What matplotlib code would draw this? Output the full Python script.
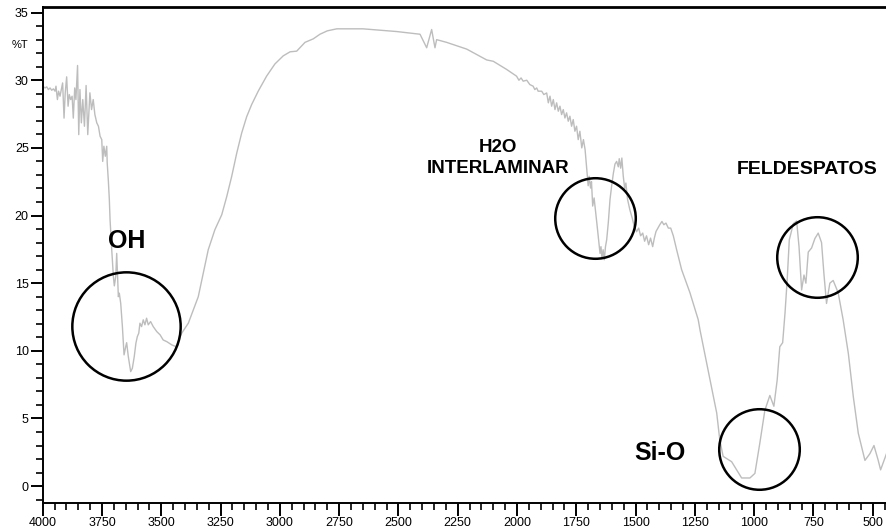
import matplotlib
matplotlib.use("Agg")
import matplotlib.pyplot as plt
from matplotlib.ticker import MultipleLocator
from matplotlib import font_manager

# IR spectrum
wavenumber = [
    4000, 3990, 3983, 3976, 3969, 3962, 3955, 3948, 3944, 3938, 3933, 3927, 3920, 3916,
    3910, 3905, 3899, 3893, 3888, 3882, 3876, 3871, 3865, 3860, 3853, 3848, 3843, 3837,
    3831, 3824, 3817, 3810, 3801, 3794, 3787, 3780, 3772, 3765, 3758, 3751, 3747, 3742,
    3736, 3730, 3728, 3723, 3719, 3716, 3709, 3702, 3698, 3692, 3688, 3681, 3677, 3671,
    3664, 3657, 3650, 3646, 3639, 3629, 3622, 3614, 3607, 3601, 3595, 3590, 3583, 3576,
    3569, 3562, 3555, 3545, 3534, 3519, 3505, 3492, 3477, 3456, 3438, 3428, 3414, 3386,
    3365, 3344, 3302, 3274, 3245, 3224, 3203, 3182, 3161, 3140, 3119, 3091, 3056, 3021,
    2986, 2957, 2929, 2894, 2859, 2831, 2800, 2760, 2650, 2578, 2508, 2409, 2381, 2360,
    2346, 2339, 2297, 2212, 2128, 2100, 2044, 2002, 1992, 1983, 1974, 1959, 1946, 1932,
    1925, 1917, 1911, 1896, 1887,
    1875, 1868, 1861, 1854, 1847, 1840, 1833, 1826, 1819, 1812, 1805, 1798, 1791,
    1784, 1777, 1770, 1763, 1756, 1749, 1742, 1735, 1727, 1720, 1713, 1700, 1696, 1690,
    1686, 1681, 1675, 1668, 1662, 1656, 1650, 1646, 1642, 1637, 1632, 1627, 1622, 1615,
    1608, 1601, 1594, 1587, 1580, 1573, 1569, 1563, 1558, 1552, 1546, 1541, 1534, 1524,
    1514, 1506, 1496, 1487, 1479, 1470, 1462, 1454, 1445, 1437, 1428, 1421, 1414, 1406,
    1398, 1389, 1381, 1372, 1362, 1352, 1341, 1327, 1306, 1271, 1236, 1228, 1186, 1158,
    1145, 1131, 1095, 1074, 1053, 1018, 997, 976, 955, 934, 917, 903, 892, 880,
    870, 861, 852, 835, 821, 811, 800, 790, 782, 772, 758, 744, 730, 716,
    706, 695, 681, 667, 646, 625, 603, 582, 561, 533, 512, 495, 477, 467, 442,
]
transmittance = [
    29.56, 29.43, 29.51, 29.31, 29.43, 29.26, 29.36, 29.19, 29.56, 28.57, 29.19, 28.82, 29.43, 29.80,
    27.20, 29.07, 30.25, 28.08, 28.94, 28.57, 28.82, 27.20, 29.43, 28.57, 31.09, 25.98, 29.31, 26.85,
    28.57, 26.60, 29.61, 25.98, 29.07, 27.83, 28.57, 27.46, 26.85, 26.60, 25.86, 25.61, 24.00, 25.12,
    24.38, 25.12, 23.89, 22.52, 21.17, 19.70, 17.50, 15.50, 14.80, 15.50, 17.20, 14.00, 14.26, 13.50,
    11.80, 9.70, 10.30, 10.60, 9.57, 8.46, 8.71, 9.57, 10.56, 11.05, 11.30, 12.04, 11.79, 12.29,
    11.92, 12.41, 11.92, 12.16, 11.79, 11.42, 11.18, 10.80, 10.68, 10.44, 10.31, 10.68, 11.30, 12.04,
    13.03, 14.00, 17.47, 18.95, 20.06, 21.40, 22.90, 24.60, 26.10, 27.30, 28.20, 29.20, 30.30, 31.20,
    31.80, 32.10, 32.15, 32.80, 33.06, 33.40, 33.65, 33.80, 33.80, 33.70, 33.60, 33.40, 32.40, 33.75,
    32.40, 33.00, 32.80, 32.30, 31.50, 31.40, 30.80, 30.30, 30.00, 30.17, 29.93, 30.00, 29.68, 29.56,
    29.31, 29.43, 29.19, 29.19, 28.94,
    29.06, 28.33, 28.82, 28.08, 28.57, 27.83, 28.33, 27.71, 28.08, 27.46, 27.83, 27.21, 27.59,
    26.97, 27.34, 26.60, 27.09, 26.23, 26.60, 25.61, 26.23, 25.00, 25.61, 24.87, 22.20, 22.90, 22.03,
    22.50, 20.70, 21.30, 20.20, 19.20, 18.20, 17.20, 17.70, 16.85, 17.47, 16.73, 17.70, 18.20, 19.50,
    21.17, 22.20, 23.10, 23.80, 24.00, 23.60, 24.20, 23.50, 24.25, 22.90, 22.00, 22.40, 21.20, 20.40,
    19.80, 19.20, 18.80, 19.07, 18.50, 18.70, 18.10, 18.50, 17.84, 18.33, 17.70, 18.33, 18.82, 19.07,
    19.32, 19.56, 19.32, 19.44, 19.07, 19.07, 18.50, 17.47, 16.00, 14.30, 12.30, 11.50, 7.85, 5.40,
    3.40, 2.20, 1.80, 1.20, 0.60, 0.60, 0.94, 3.20, 5.60, 6.70, 5.90, 7.85, 10.30, 10.60,
    12.80, 15.20, 18.20, 19.40, 19.60, 17.70, 14.50, 15.60, 15.00, 17.30, 17.60, 18.30, 18.70, 18.00,
    15.70, 13.50, 15.00, 15.20, 14.30, 12.30, 9.80, 6.60, 3.90, 1.90, 2.40, 3.00, 1.90, 1.20, 2.40,
]

# band annotations: label text, label position, circle centre, circle diameter (pt)
band_labels = ["OH", "H2O\nINTERLAMINAR", "FELDESPATOS", "Si-O"]
label_x = [3645, 2080, 778, 1398]
label_y = [18.1, 24.25, 23.4, 2.45]
label_size = [18, 13.5, 14, 18]
circle_x = [3649, 1672, 736, 980]
circle_y = [11.8, 19.8, 16.95, 2.75]
circle_d = [78, 58, 58, 58]

names = {f.name for f in font_manager.fontManager.ttflist}
tick_font = "Liberation Sans Narrow" if "Liberation Sans Narrow" in names else "Liberation Sans"

fig = plt.figure(figsize=(8.87, 5.28), dpi=100)
ax = fig.add_axes([42.7 / 887, 25 / 528, 1 - 42.7 / 887, 1 - 31.5 / 528])

ax.plot(wavenumber, transmittance, color="#bdbdbd", lw=1.0)

for cx, cy, d in zip(circle_x, circle_y, circle_d):
    ax.plot(cx, cy, "o", ms=d, mfc="none", mec="black", mew=1.8)

for txt, tx, ty, fs in zip(band_labels, label_x, label_y, label_size):
    ax.text(tx, ty, txt, ha="center", va="center", fontsize=fs, fontweight="bold",
            family="Liberation Sans", linespacing=1.25)

ax.set_xlim(4000, 440)
ax.set_ylim(-1.25, 35.45)

ax.xaxis.set_major_locator(MultipleLocator(250))
ax.xaxis.set_minor_locator(MultipleLocator(50))
ax.yaxis.set_major_locator(MultipleLocator(5))
ax.yaxis.set_minor_locator(MultipleLocator(1))

ax.tick_params(which="major", length=9, width=1.4, direction="out", pad=1)
ax.tick_params(which="minor", length=5, width=1.2, direction="out")
for lbl in ax.get_xticklabels() + ax.get_yticklabels():
    lbl.set_family(tick_font)
    lbl.set_fontsize(9)

ax.spines["right"].set_visible(False)
for s in ["left", "bottom"]:
    ax.spines[s].set_linewidth(1.4)
ax.spines["top"].set_linewidth(2)

fig.text(20 / 887, 1 - 45 / 528, "%T", ha="center", va="center", fontsize=8, family=tick_font)

fig.savefig("out.png", dpi=100)
